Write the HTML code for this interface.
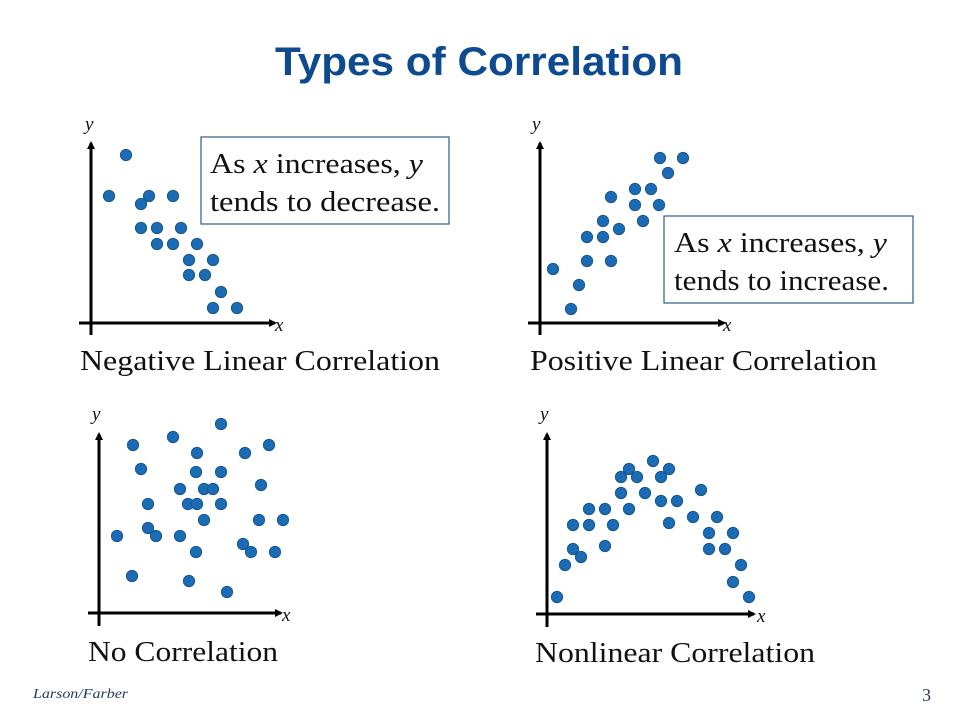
<!DOCTYPE html>
<html><head><meta charset="utf-8"><style>
html,body{margin:0;padding:0;background:#fff;}
svg{display:block;}
.cap{font-family:"Liberation Serif",serif;font-size:29px;fill:#111;}
.ax{font-family:"Liberation Serif",serif;font-style:italic;font-size:19px;fill:#111;}
.box{font-family:"Liberation Serif",serif;font-size:28px;fill:#111;}
</style></head><body>
<svg id="slide" width="960" height="720" viewBox="0 0 960 720">
<defs><marker id="arr" markerWidth="8" markerHeight="8" refX="6" refY="4" orient="auto" markerUnits="userSpaceOnUse"><path d="M0,0 L8,4 L0,8 z" fill="#000"/></marker></defs>
<text x="479" y="75" text-anchor="middle" font-family="Liberation Sans, sans-serif" font-weight="bold" font-size="40" fill="#0d4a8f" textLength="408" lengthAdjust="spacingAndGlyphs">Types of Correlation</text>

<g>
<line x1="91" y1="335" x2="91" y2="143" stroke="#000" stroke-width="3" marker-end="url(#arr)"/>
<line x1="79" y1="323" x2="275" y2="323" stroke="#000" stroke-width="3" marker-end="url(#arr)"/>
<text class="ax" x="85" y="130">y</text>
<text class="ax" x="275" y="331">x</text>
<g id="dots1"></g>
<rect x="201" y="137" width="248" height="87" fill="#fff" stroke="#2e5b85" stroke-width="1.2"/>
<text class="box" x="210" y="173" textLength="213" lengthAdjust="spacingAndGlyphs">As <tspan font-style="italic">x</tspan> increases, <tspan font-style="italic">y</tspan></text>
<text class="box" x="210" y="211" textLength="230" lengthAdjust="spacingAndGlyphs">tends to decrease.</text>
<text class="cap" x="80" y="370" textLength="360" lengthAdjust="spacingAndGlyphs">Negative Linear Correlation</text>
</g>

<g>
<line x1="540" y1="335" x2="540" y2="143" stroke="#000" stroke-width="3" marker-end="url(#arr)"/>
<line x1="528" y1="323" x2="724" y2="323" stroke="#000" stroke-width="3" marker-end="url(#arr)"/>
<text class="ax" x="532" y="130">y</text>
<text class="ax" x="723" y="331">x</text>
<g id="dots2"></g>
<rect x="664" y="216" width="249" height="87" fill="#fff" stroke="#2e5b85" stroke-width="1.2"/>
<text class="box" x="674" y="252" textLength="213" lengthAdjust="spacingAndGlyphs">As <tspan font-style="italic">x</tspan> increases, <tspan font-style="italic">y</tspan></text>
<text class="box" x="674" y="290" textLength="215" lengthAdjust="spacingAndGlyphs">tends to increase.</text>
<text class="cap" x="530" y="370" textLength="347" lengthAdjust="spacingAndGlyphs">Positive Linear Correlation</text>
</g>

<g>
<line x1="99" y1="626" x2="99" y2="434" stroke="#000" stroke-width="3" marker-end="url(#arr)"/>
<line x1="88" y1="613" x2="281" y2="613" stroke="#000" stroke-width="3" marker-end="url(#arr)"/>
<text class="ax" x="92" y="420">y</text>
<text class="ax" x="282" y="621">x</text>
<g id="dots3"></g>
<text class="cap" x="88" y="661" textLength="190" lengthAdjust="spacingAndGlyphs">No Correlation</text>
</g>

<g>
<line x1="547" y1="627" x2="547" y2="434" stroke="#000" stroke-width="3" marker-end="url(#arr)"/>
<line x1="536" y1="614" x2="754" y2="614" stroke="#000" stroke-width="3" marker-end="url(#arr)"/>
<text class="ax" x="540" y="420">y</text>
<text class="ax" x="757" y="622">x</text>
<g id="dots4"></g>
<text class="cap" x="535" y="662" textLength="280" lengthAdjust="spacingAndGlyphs">Nonlinear Correlation</text>
</g>

<text x="33" y="698" font-family="Liberation Serif, serif" font-style="italic" font-size="14" fill="#1f3b5c" textLength="95" lengthAdjust="spacingAndGlyphs">Larson/Farber</text>
<text x="922" y="701" font-family="Liberation Serif, serif" font-size="18" fill="#1f3b5c">3</text>
</svg>
<script>
// values: x = distance right of y-axis, y = height above x-axis (chart units)
const negX=[35,18,50,58,82,50,66,90,66,82,106,98,122,98,114,130,122,146];
const negY=[168,127,119,127,127,95,95,95,79,79,79,63,63,48,48,31,15,15];
const posX=[120,143,128,95,111,71,95,119,103,63,79,47,63,47,71,13,39,31];
const posY=[165,165,150,134,134,126,118,118,102,102,94,86,86,62,62,54,38,14];
const noX=[122,74,34,170,98,146,42,97,122,81,105,114,162,49,89,98,122,105,160,184,18,49,57,81,144,152,97,176,33,90,128];
const noY=[189,176,168,168,160,160,144,141,141,124,124,124,128,109,109,109,109,93,93,93,77,85,77,77,69,61,61,61,37,32,21];
const nlX=[106,82,122,74,90,114,74,98,154,114,130,42,58,82,146,170,26,42,66,122,162,186,58,26,34,162,178,18,194,186,10,202];
const nlY=[153,145,145,137,137,137,121,121,124,113,113,105,105,105,97,97,89,89,89,91,81,81,68,65,57,65,65,49,49,32,17,17];

const panels=[
 {id:'dots1',ox:91,oy:323,xs:negX,ys:negY},
 {id:'dots2',ox:540,oy:323,xs:posX,ys:posY},
 {id:'dots3',ox:99,oy:613,xs:noX,ys:noY},
 {id:'dots4',ox:547,oy:614,xs:nlX,ys:nlY}
];
const NS='http://www.w3.org/2000/svg';
panels.forEach(p=>{
  const xScale=v=>p.ox+v;
  const yScale=v=>p.oy-v;
  const g=document.getElementById(p.id);
  p.xs.forEach((v,i)=>{
    const c=document.createElementNS(NS,'circle');
    c.setAttribute('cx',xScale(v));
    c.setAttribute('cy',yScale(p.ys[i]));
    c.setAttribute('r',5.6);
    c.setAttribute('fill','#1c6cb5');
    c.setAttribute('stroke','#14558f');
    c.setAttribute('stroke-width','1');
    
    
    g.appendChild(c);
  });
});
</script>
</body></html>
